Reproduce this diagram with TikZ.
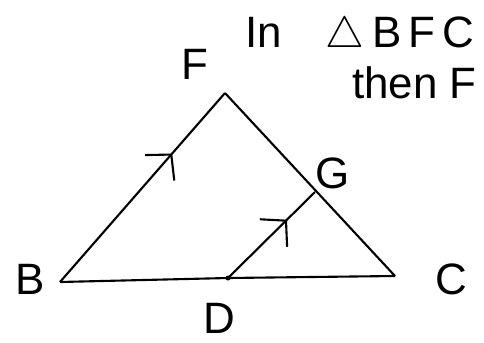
\documentclass[tikz,border=0pt]{standalone}
\usepackage{fontspec}
\setmainfont{Liberation Sans}
\usetikzlibrary{arrows.meta, decorations.markings}

\begin{document}
\begin{tikzpicture}[
    x=0.02cm, y=-0.02cm,
    side/.style={line width=1.2pt},
    lbl/.style={font=\fontsize{25}{30}\selectfont, inner sep=0pt},
    para/.style={side, postaction={decorate}, decoration={markings,
        mark=at position 0.68 with {\arrow{Straight Barb[length=10pt, width=22pt]}}}},
    tick/.style={side, postaction={decorate}, decoration={markings,
        mark=at position #1 with {\draw[line width=1.2pt] (0,-0.3) -- (0,0.32);}}},
]
\useasboundingbox (0,0) rectangle (484,342);

% Vertices
\coordinate (B) at (60,282);
\coordinate (F) at (225,93);
\coordinate (C) at (395,276);
\coordinate (D) at (228,278);
\coordinate (G) at (315,192);

% Triangle BFC and segment DG
\draw[para] (B) -- (F);
\draw[side] (F) -- (C);
\draw[tick=0.52] (B) -- (D);
\draw[tick=0.45] (D) -- (C);
\draw[para] (D) -- (G);
\fill (D) circle (2.5);

% Labels
\node[lbl] (lB) at (30,279) {B};
\node[lbl] (lF) at (195,64) {F};
\node[lbl] (lC) at (451,279) {C};
\node[lbl] (lD) at (219,318) {D};
\node[lbl] (lG) at (333,173) {G};

% Note
\node[lbl, anchor=base west] (n1) at (245,47) {In\quad$\triangle$\,B\,F\,C};
\node[lbl, anchor=base west] (n2) at (352,98) {then F};

\end{tikzpicture}
\end{document}
